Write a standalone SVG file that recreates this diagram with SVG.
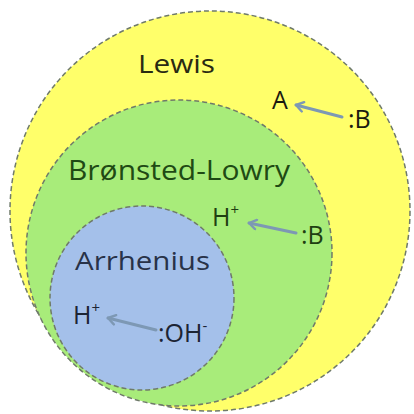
<svg xmlns="http://www.w3.org/2000/svg" width="414" height="414" viewBox="0 0 414 414">
<defs>
<style>
.c{stroke:#6f7a6a;stroke-width:1.5;stroke-dasharray:5 3}
.t{font-family:"Open Sans","Noto Sans",sans-serif}
.l{font-size:25px}
.s{font-size:15px}
.a{stroke:#7d98b4;stroke-width:3;fill:none;stroke-linecap:round}
</style>
<marker id="ah" viewBox="0 0 10 10" refX="8" refY="5" markerWidth="4" markerHeight="4" orient="auto" markerUnits="strokeWidth">
<path d="M2,1 L8,5 L2,9" fill="none" stroke="#7d98b4" stroke-width="2" stroke-linecap="round" stroke-linejoin="round"/>
</marker>
</defs>
<rect width="414" height="414" fill="#ffffff"/>
<g id="lewis">
<circle class="c" cx="210" cy="211" r="200" fill="#ffff6a"/>
<text class="t" x="138" y="73" font-size="26" fill="#2a2a12" textLength="77" lengthAdjust="spacingAndGlyphs">Lewis</text>
<text class="t l" x="272" y="109" fill="#1a1a10">A</text>
<text class="t l" x="348" y="128" fill="#1a1a10">:B</text>
</g>
<g id="bronsted">
<circle class="c" cx="179" cy="253" r="153" fill="#a8ec7a"/>
<text class="t" x="68" y="180" font-size="27" fill="#1f4a14" textLength="222" lengthAdjust="spacingAndGlyphs">Brønsted-Lowry</text>
<text class="t l" x="212" y="226" fill="#1f3f12">H<tspan class="s" dy="-11">+</tspan></text>
<text class="t l" x="301" y="244" fill="#1f3f12">:B</text>
</g>
<g id="arrhenius">
<circle class="c" cx="142" cy="298" r="92" fill="#a4c0ea"/>
<text class="t" x="75" y="270" font-size="26" fill="#283248" textLength="135" lengthAdjust="spacingAndGlyphs">Arrhenius</text>
<text class="t l" x="73" y="324" fill="#1c2434">H<tspan class="s" dy="-11">+</tspan></text>
<text class="t l" x="158" y="342" fill="#1c2434">:OH<tspan class="s" dy="-11">-</tspan></text>
</g>
<g id="connectors">
<line class="a" x1="342" y1="117" x2="296" y2="105" marker-end="url(#ah)"/>
<line class="a" x1="296" y1="233" x2="249" y2="223" marker-end="url(#ah)"/>
<line class="a" x1="156" y1="330" x2="108" y2="318" marker-end="url(#ah)"/>
</g>
</svg>
